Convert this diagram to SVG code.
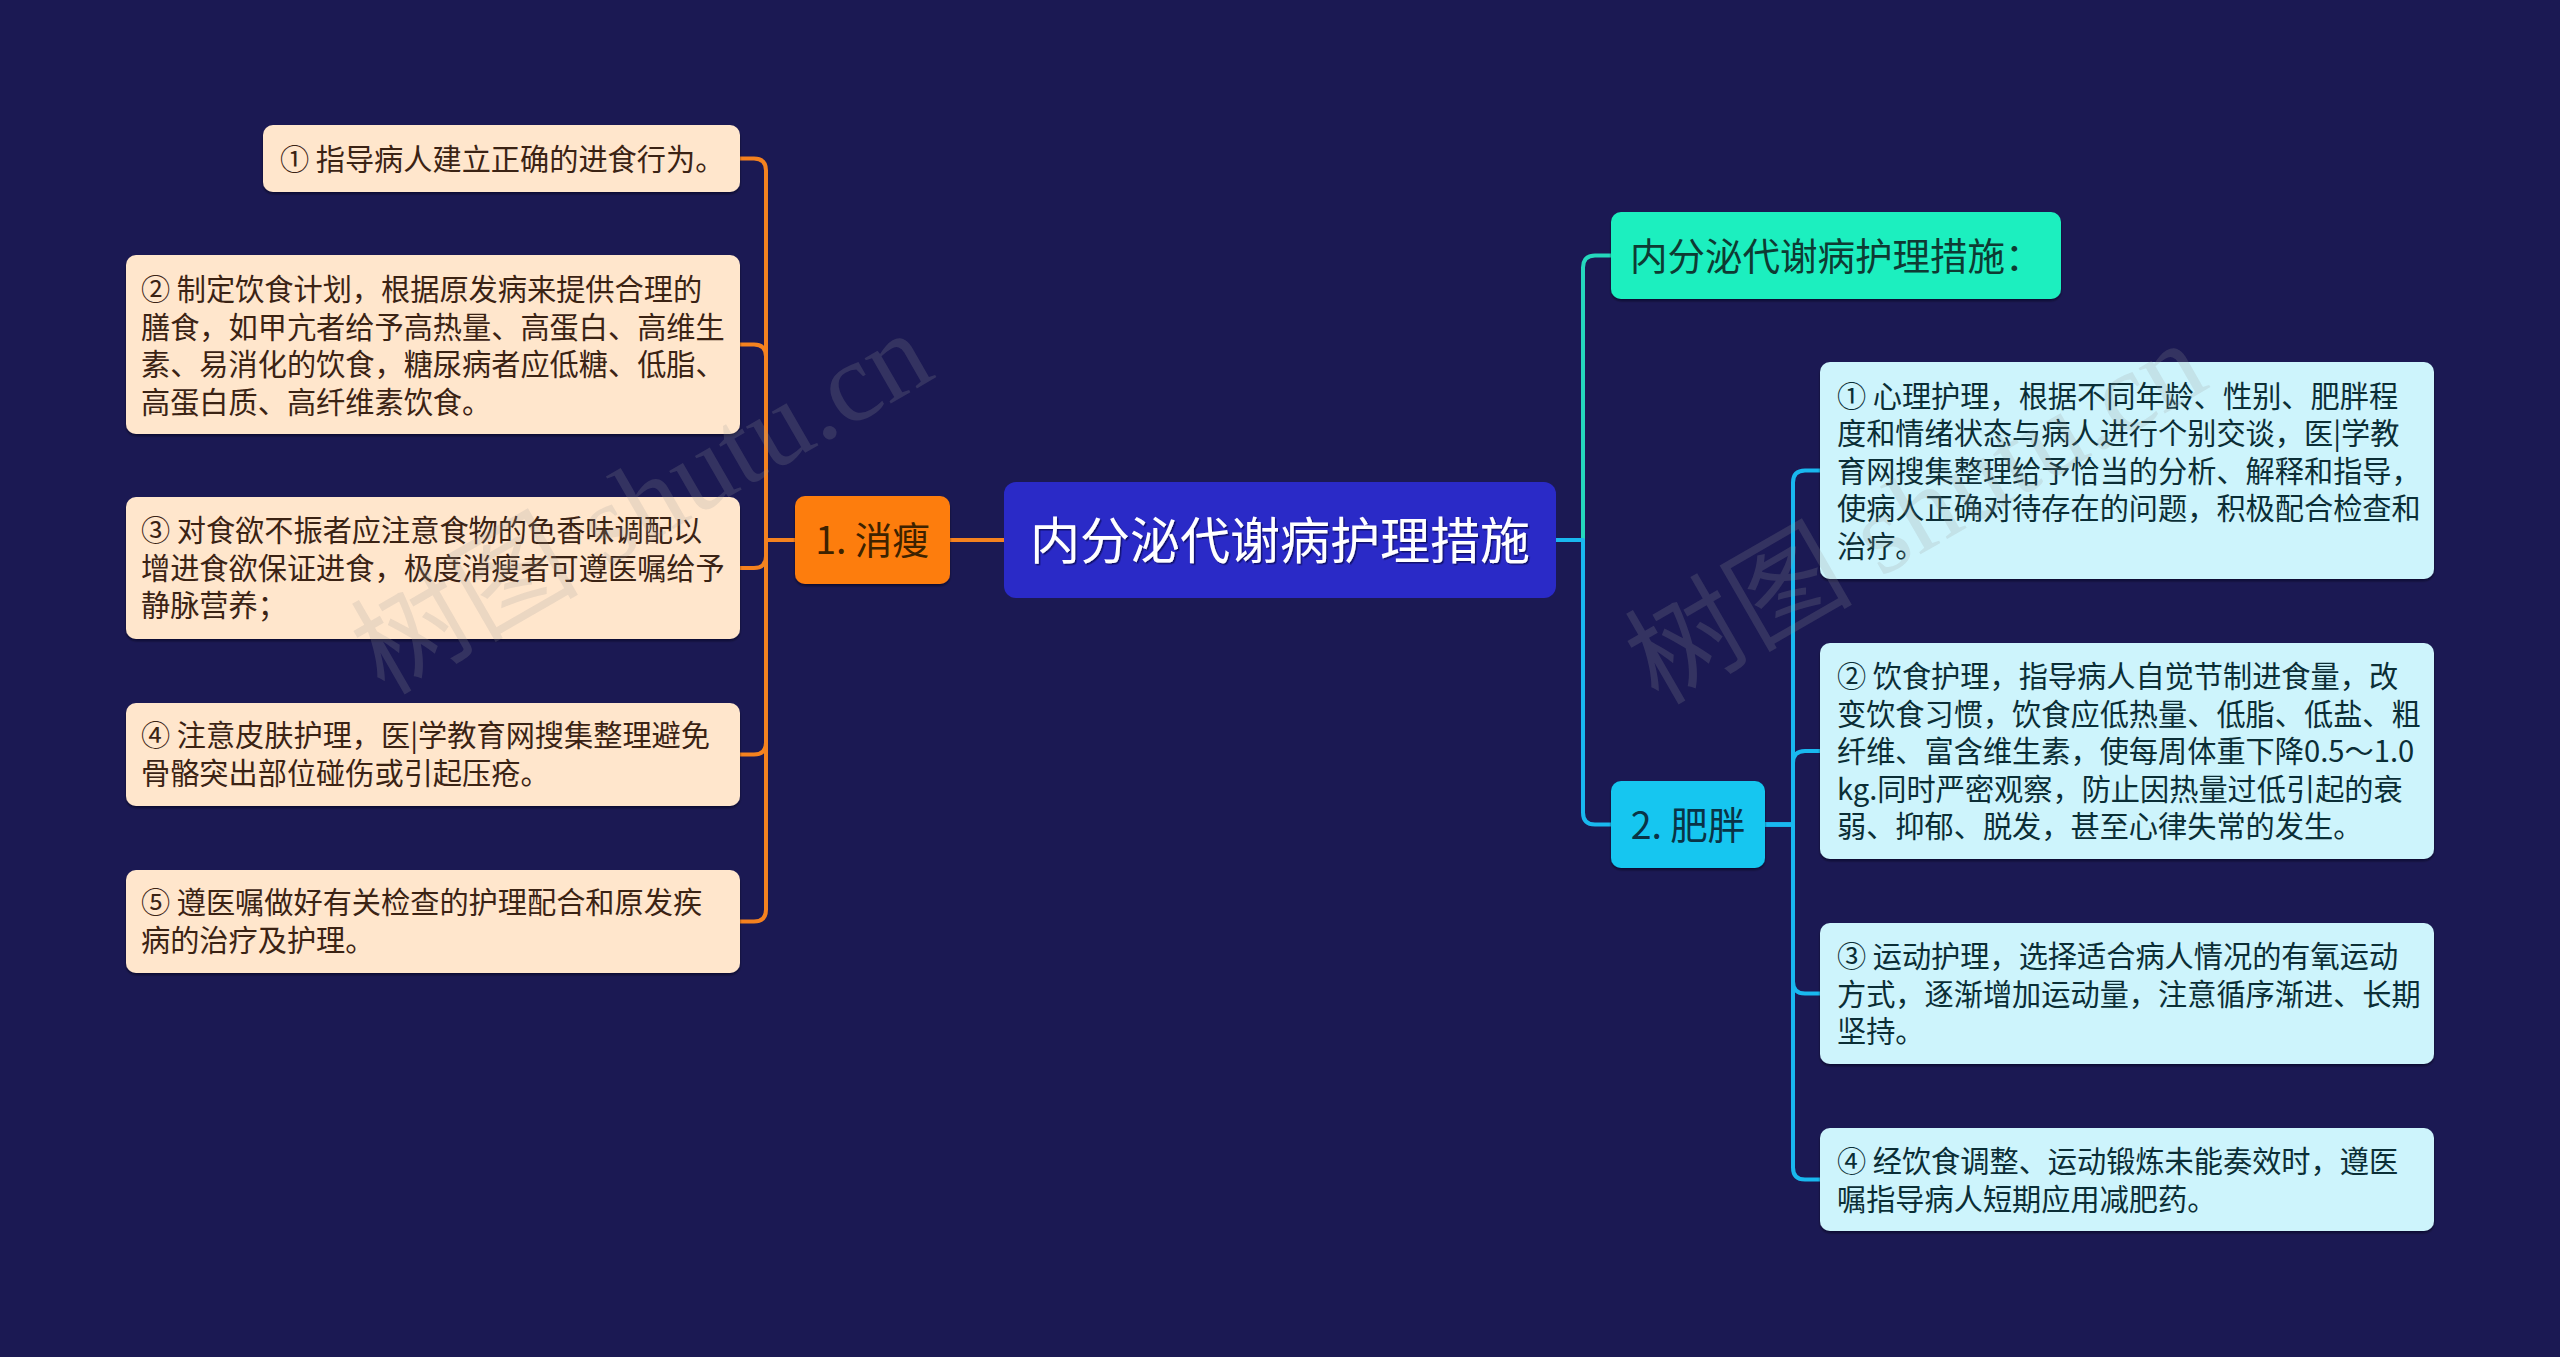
<svg xmlns="http://www.w3.org/2000/svg" width="2560" height="1357" viewBox="0 0 2560 1357">
<defs>
<filter id="sh" x="-5%" y="-5%" width="110%" height="120%">
<feDropShadow dx="0" dy="2" stdDeviation="1.2" flood-color="#000010" flood-opacity="0.55"/>
</filter>
<filter id="tsh" x="-5%" y="-5%" width="110%" height="130%">
<feDropShadow dx="1.5" dy="1.5" stdDeviation="0.6" flood-color="#000030" flood-opacity="0.6"/>
</filter>
<style>
.t{font-family:"Noto Sans CJK SC","Noto Sans",sans-serif;font-size:29.2px;}
.l1{font-family:"Noto Sans CJK SC","Noto Sans",sans-serif;font-size:37.5px;}
.root{font-family:"Noto Sans CJK SC","Noto Sans",sans-serif;font-size:50px;fill:#ffffff;}
.peach{fill:#ffe6cc;}
.ice{fill:#cdf4fc;}
.lt{fill:#3b2314;}
.rt{fill:#0b2e36;}
.c{fill:none;stroke-width:4;stroke-linecap:round;stroke-linejoin:round;}
.or{stroke:#f5821f;}
.tl{stroke:#25d8bd;}
.cy{stroke:#19b8ef;}
.wm{font-family:"Liberation Serif","Noto Sans CJK SC",serif;font-size:114px;fill:#9a9a9a;fill-opacity:0.2;}
</style>
</defs>
<rect x="0" y="0" width="2560" height="1357" fill="#1b1953"/>

<g id="connectors">
<path class="c or" d="M1004 540 H950"/>
<path class="c or" d="M795 540 H766 V170.5 Q766 158.5 754 158.5 H740"/>
<path class="c or" d="M795 540 H766 V356.5 Q766 344.5 754 344.5 H740"/>
<path class="c or" d="M795 540 H766 V556 Q766 568 754 568 H740"/>
<path class="c or" d="M795 540 H766 V742.5 Q766 754.5 754 754.5 H740"/>
<path class="c or" d="M795 540 H766 V909.5 Q766 921.5 754 921.5 H740"/>
<path class="c tl" d="M1556 540 H1583 V267.5 Q1583 255.5 1595 255.5 H1611"/>
<path class="c cy" d="M1556 540 H1583 V812.5 Q1583 824.5 1595 824.5 H1611"/>
<path class="c cy" d="M1765 824.5 H1793 V482.5 Q1793 470.5 1805 470.5 H1820"/>
<path class="c cy" d="M1765 824.5 H1793 V763 Q1793 751 1805 751 H1820"/>
<path class="c cy" d="M1765 824.5 H1793 V981.5 Q1793 993.5 1805 993.5 H1820"/>
<path class="c cy" d="M1765 824.5 H1793 V1167.5 Q1793 1179.5 1805 1179.5 H1820"/>
</g>

<g id="root">
<rect x="1004" y="482" width="552" height="116" rx="12" fill="#2a2ac7"/>
<text class="root" x="1280" y="559" text-anchor="middle" filter="url(#tsh)">内分泌代谢病护理措施</text>
</g>

<g id="b1">
<rect x="795" y="496" width="155" height="88" rx="10" fill="#fd7d0b" filter="url(#sh)"/>
<text class="l1" x="872.5" y="554" text-anchor="middle" fill="#3d2200">1. 消瘦</text>
</g>

<g id="b2">
<rect x="1611" y="212" width="450" height="87" rx="10" fill="#1fefbf" filter="url(#sh)"/>
<text class="l1" x="1630" y="270" fill="#0e3b33">内分泌代谢病护理措施：</text>
</g>

<g id="b3">
<rect x="1611" y="781" width="154" height="87" rx="10" fill="#12c6f0" filter="url(#sh)"/>
<text class="l1" x="1688" y="839" text-anchor="middle" fill="#0a3346">2. 肥胖</text>
</g>

<g id="l1n">
<rect class="peach" x="263" y="125" width="477" height="67" rx="10" filter="url(#sh)"/>
<text class="t lt" x="280" y="170">① 指导病人建立正确的进食行为。</text>
</g>
<g id="l2n">
<rect class="peach" x="126" y="255" width="614" height="179" rx="10" filter="url(#sh)"/>
<text class="t lt"><tspan x="141" y="300">② 制定饮食计划，根据原发病来提供合理的</tspan><tspan x="141" y="337.5">膳食，如甲亢者给予高热量、高蛋白、高维生</tspan><tspan x="141" y="375">素、易消化的饮食，糖尿病者应低糖、低脂、</tspan><tspan x="141" y="412.5">高蛋白质、高纤维素饮食。</tspan></text>
</g>
<g id="l3n">
<rect class="peach" x="126" y="497" width="614" height="142" rx="10" filter="url(#sh)"/>
<text class="t lt"><tspan x="141" y="541">③ 对食欲不振者应注意食物的色香味调配以</tspan><tspan x="141" y="578.5">增进食欲保证进食，极度消瘦者可遵医嘱给予</tspan><tspan x="141" y="616">静脉营养；</tspan></text>
</g>
<g id="l4n">
<rect class="peach" x="126" y="703" width="614" height="103" rx="10" filter="url(#sh)"/>
<text class="t lt"><tspan x="141" y="746">④ 注意皮肤护理，医|学教育网搜集整理避免</tspan><tspan x="141" y="783.5">骨骼突出部位碰伤或引起压疮。</tspan></text>
</g>
<g id="l5n">
<rect class="peach" x="126" y="870" width="614" height="103" rx="10" filter="url(#sh)"/>
<text class="t lt"><tspan x="141" y="913">⑤ 遵医嘱做好有关检查的护理配合和原发疾</tspan><tspan x="141" y="950.5">病的治疗及护理。</tspan></text>
</g>

<g id="r1n">
<rect class="ice" x="1820" y="362" width="614" height="217" rx="10" filter="url(#sh)"/>
<text class="t rt"><tspan x="1837" y="406.5">① 心理护理，根据不同年龄、性别、肥胖程</tspan><tspan x="1837" y="444">度和情绪状态与病人进行个别交谈，医|学教</tspan><tspan x="1837" y="481.5">育网搜集整理给予恰当的分析、解释和指导，</tspan><tspan x="1837" y="519">使病人正确对待存在的问题，积极配合检查和</tspan><tspan x="1837" y="556.5">治疗。</tspan></text>
</g>
<g id="r2n">
<rect class="ice" x="1820" y="643" width="614" height="216" rx="10" filter="url(#sh)"/>
<text class="t rt"><tspan x="1837" y="687">② 饮食护理，指导病人自觉节制进食量，改</tspan><tspan x="1837" y="724.5">变饮食习惯，饮食应低热量、低脂、低盐、粗</tspan><tspan x="1837" y="762">纤维、富含维生素，使每周体重下降0.5～1.0</tspan><tspan x="1837" y="799.5">kg.同时严密观察，防止因热量过低引起的衰</tspan><tspan x="1837" y="837">弱、抑郁、脱发，甚至心律失常的发生。</tspan></text>
</g>
<g id="r3n">
<rect class="ice" x="1820" y="923" width="614" height="141" rx="10" filter="url(#sh)"/>
<text class="t rt"><tspan x="1837" y="967">③ 运动护理，选择适合病人情况的有氧运动</tspan><tspan x="1837" y="1004.5">方式，逐渐增加运动量，注意循序渐进、长期</tspan><tspan x="1837" y="1042">坚持。</tspan></text>
</g>
<g id="r4n">
<rect class="ice" x="1820" y="1128" width="614" height="103" rx="10" filter="url(#sh)"/>
<text class="t rt"><tspan x="1837" y="1172">④ 经饮食调整、运动锻炼未能奏效时，遵医</tspan><tspan x="1837" y="1209.5">嘱指导病人短期应用减肥药。</tspan></text>
</g>

<g id="watermarks">
<text class="wm" transform="translate(384 696) rotate(-30)">树图 shutu.cn</text>
<text class="wm" transform="translate(1658 706) rotate(-30)">树图 shutu.cn</text>
</g>
</svg>
